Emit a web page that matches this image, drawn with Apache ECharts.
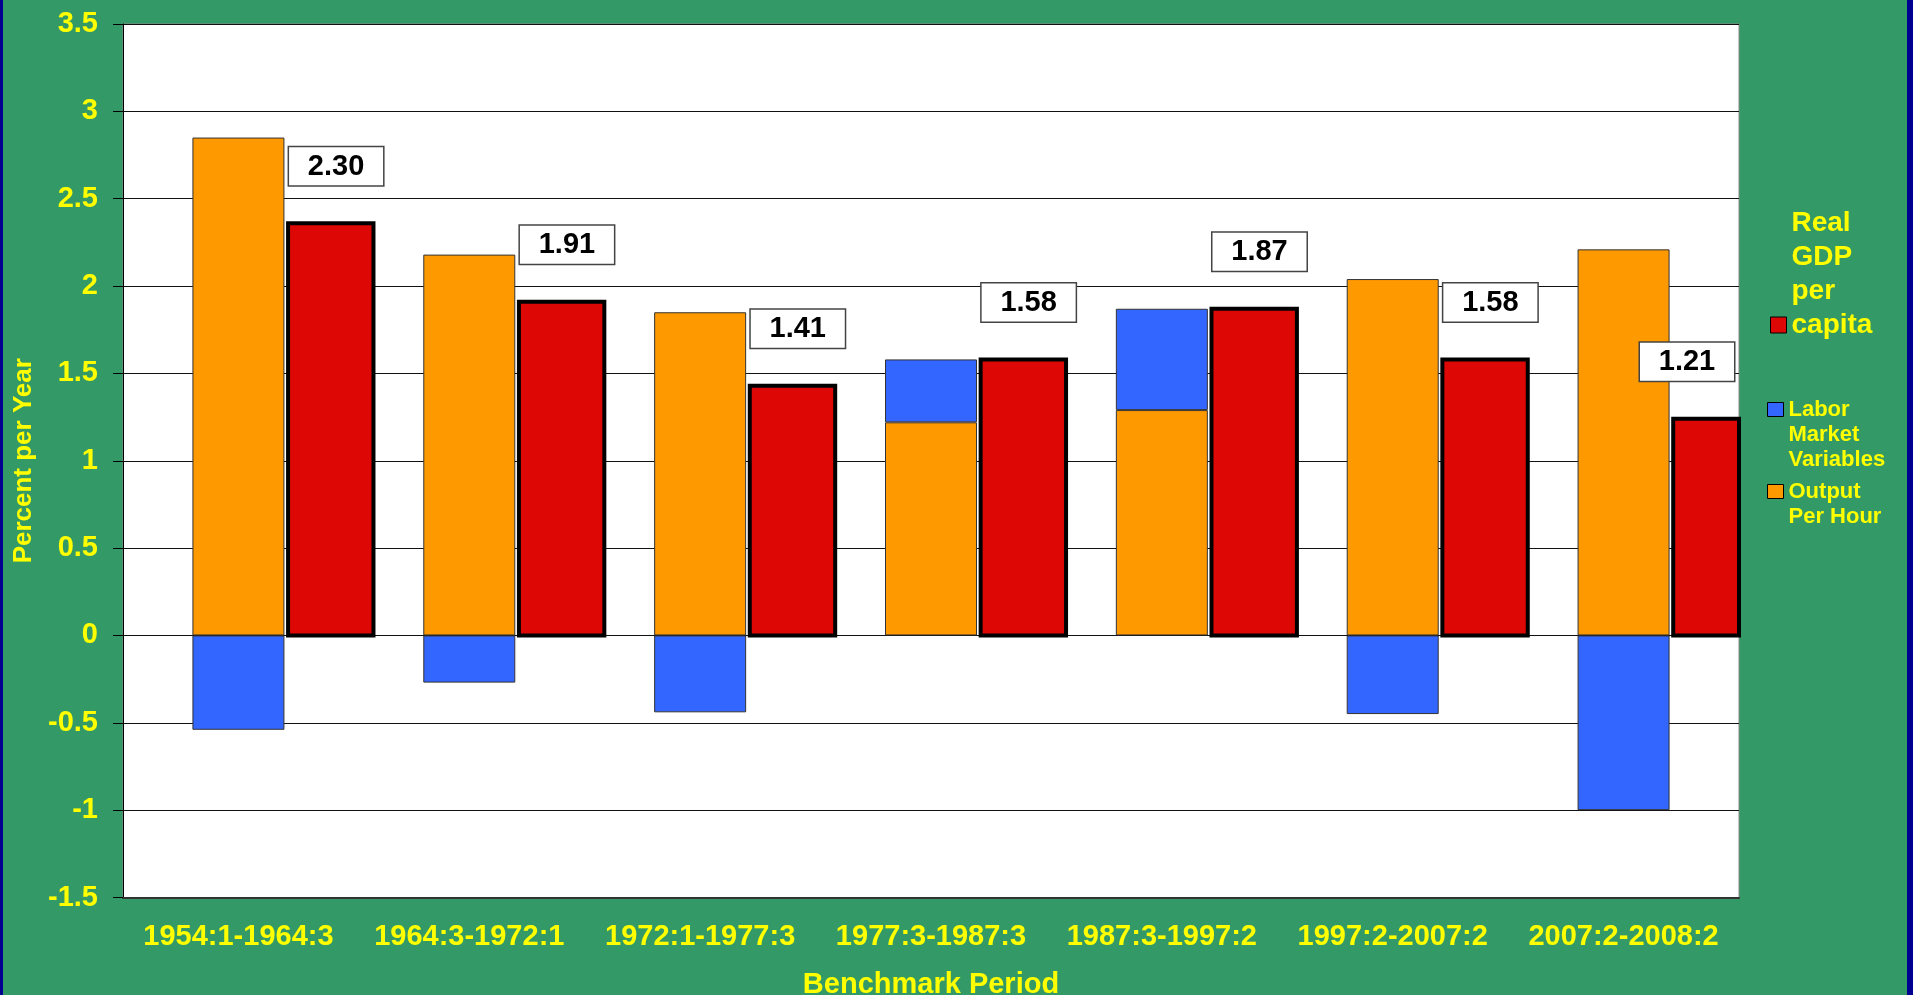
<!DOCTYPE html>
<html>
<head>
<meta charset="utf-8">
<script src="https://cdn.jsdelivr.net/npm/echarts@6/dist/echarts.min.js"></script>
<style>
  html, body { margin: 0; padding: 0; background: #000090; overflow: hidden; }
  #chart { position: absolute; left: 3px; top: 0; width: 1904px; height: 995px; }
</style>
</head>
<body>
<div id="chart"></div>
<script>
const periods = ['1954:1-1964:3', '1964:3-1972:1', '1972:1-1977:3', '1977:3-1987:3', '1987:3-1997:2', '1997:2-2007:2', '2007:2-2008:2'];
// stacked bar: output per hour + labor market variables
const outputPerHour = [2.85, 2.18, 1.85, 1.22, 1.29, 2.04, 2.21];
const laborMarket = [-0.54, -0.27, -0.44, 0.36, 0.58, -0.45, -1.0];
const realGdpPerCapita = [2.36, 1.91, 1.43, 1.58, 1.87, 1.58, 1.24];
const gdpLabels = ['2.30', '1.91', '1.41', '1.58', '1.87', '1.58', '1.21'];

const FONT = 'Liberation Sans';
const YELLOW = '#FFFF00';
const ORANGE = '#FF9900';
const BLUE = '#3366FF';
const RED = '#DD0806';

const chart = echarts.init(document.getElementById('chart'));

function renderGdp(params, api) {
  const area = params.coordSys;
  const base = api.coord([api.value(0), 0]);
  const top = api.coord([api.value(0), api.value(1)]);
  const band = api.size([1, 0])[0];
  const left = base[0] + band * 0.215;
  const width = band * 0.37;
  const rect = echarts.graphic.clipRectByRect(
    { x: left, y: top[1], width: width, height: base[1] - top[1] },
    { x: area.x, y: area.y, width: area.width, height: area.height }
  );
  const boxX = Math.min(left + 48, area.x + area.width - 52);
  const children = [];
  if (rect) {
    children.push({ type: 'rect', shape: rect, style: { fill: RED, stroke: '#000', lineWidth: 4 } });
  }
  // white value box above the bar
  children.push({
    type: 'text',
    x: boxX,
    y: top[1] - 38,
    style: {
      text: gdpLabels[params.dataIndex],
      font: 'bold 29px ' + FONT,
      fill: '#000',
      align: 'center',
      verticalAlign: 'bottom',
      width: 94,
      lineHeight: 31,
      padding: [4, 0, 3, 0],
      backgroundColor: '#fff',
      borderColor: '#444',
      borderWidth: 1.5
    }
  });
  return { type: 'group', children: children };
}

const legendText = { color: YELLOW, fontWeight: 'bold', fontFamily: FONT };

chart.setOption({
  backgroundColor: '#339966',
  textStyle: { fontFamily: FONT },
  grid: { left: 120, top: 24, width: 1616, bottom: 97.5, show: true, backgroundColor: '#fff', borderColor: '#888', borderWidth: 1, outerBoundsMode: 'none' },
  legend: [
    {
      left: 1767, top: 206, padding: 0, orient: 'vertical', selectedMode: false,
      itemWidth: 16, itemHeight: 16,
      data: [{ name: 'Real GDP per capita', icon: 'rect', itemStyle: { color: RED, borderColor: '#000', borderWidth: 1 } }],
      formatter: () => 'Real\nGDP\nper\ncapita\n\n\n',
      textStyle: Object.assign({ fontSize: 28, lineHeight: 34 }, legendText)
    },
    {
      left: 1764, top: 347, padding: 0, orient: 'vertical', selectedMode: false,
      itemWidth: 16, itemHeight: 14,
      data: [{ name: 'Labor Market Variables', icon: 'rect', itemStyle: { color: BLUE, borderColor: '#000', borderWidth: 1 } }],
      formatter: () => '\n\nLabor\nMarket\nVariables',
      textStyle: Object.assign({ fontSize: 22, lineHeight: 25 }, legendText)
    },
    {
      left: 1764, top: 454, padding: 0, orient: 'vertical', selectedMode: false,
      itemWidth: 16, itemHeight: 14,
      data: [{ name: 'Output Per Hour', icon: 'rect', itemStyle: { color: ORANGE, borderColor: '#000', borderWidth: 1 } }],
      formatter: () => '\nOutput\nPer Hour',
      textStyle: Object.assign({ fontSize: 22, lineHeight: 25 }, legendText)
    }
  ],
  xAxis: {
    type: 'category',
    data: periods,
    axisLine: { onZero: false, lineStyle: { color: '#333', width: 2 } },
    axisTick: { show: false },
    axisLabel: { interval: 0, margin: 25, color: YELLOW, fontWeight: 'bold', fontSize: 29, fontFamily: FONT },
    name: 'Benchmark Period',
    nameLocation: 'middle',
    nameGap: 73,
    nameTextStyle: { color: YELLOW, fontWeight: 'bold', fontSize: 29, fontFamily: FONT }
  },
  yAxis: {
    type: 'value',
    min: -1.5,
    max: 3.5,
    interval: 0.5,
    axisLine: { show: true, lineStyle: { color: '#000', width: 1 } },
    axisTick: { show: true, inside: false, length: 10, lineStyle: { color: '#000' } },
    axisLabel: { margin: 25, color: YELLOW, fontWeight: 'bold', fontSize: 29, fontFamily: FONT },
    splitLine: { lineStyle: { color: '#111', width: 1 } },
    name: 'Percent per Year',
    nameLocation: 'middle',
    nameGap: 81,
    nameTextStyle: { color: YELLOW, fontWeight: 'bold', fontSize: 26, fontFamily: FONT }
  },
  series: [
    {
      name: 'Output Per Hour', type: 'bar', stack: 'prod', barWidth: 92,
      data: outputPerHour,
      itemStyle: { color: ORANGE, borderColor: '#333', borderWidth: 1 }
    },
    {
      name: 'Labor Market Variables', type: 'bar', stack: 'prod', barWidth: 92,
      data: laborMarket,
      itemStyle: { color: BLUE, borderColor: '#333', borderWidth: 1 }
    },
    {
      name: 'Real GDP per capita', type: 'custom',
      data: realGdpPerCapita.map((v, i) => [i, v]),
      encode: { x: 0, y: 1 },
      itemStyle: { color: RED },
      renderItem: renderGdp,
      z: 3
    }
  ]
});
</script>
</body>
</html>
